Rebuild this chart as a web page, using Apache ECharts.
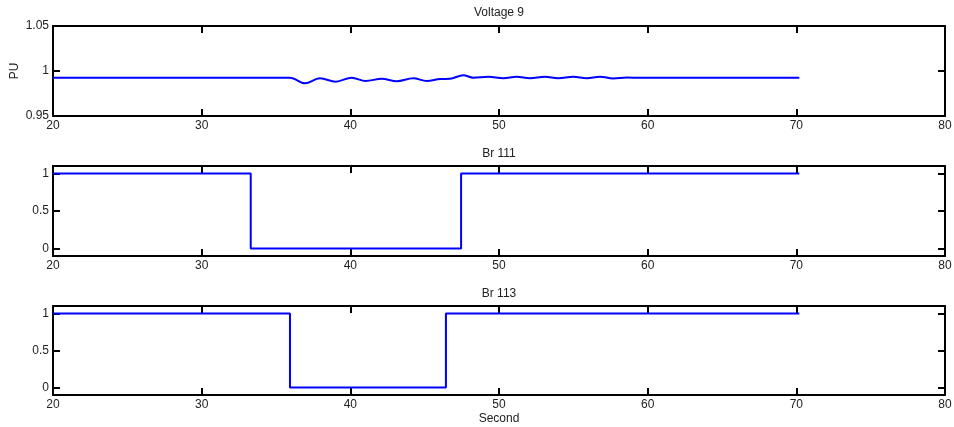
<!DOCTYPE html>
<html>
<head>
<meta charset="utf-8">
<script src="https://cdn.jsdelivr.net/npm/echarts@6/dist/echarts.min.js"></script>
<style>
  html, body { margin: 0; padding: 0; background: #fff; }
  #chart { width: 954px; height: 427px; }
</style>
</head>
<body>
<div id="chart"></div>
<script>
// Bus 9 voltage (per unit) over simulation time
const vTime = [20, 35.94, 36.95, 37.96, 39.02, 40.09, 41.03, 42.11, 43.12, 44.23, 45.14, 46.03, 46.70,
  47.60, 48.27, 49.28, 50.29, 51.19, 52.08, 53.09, 53.99, 55.0, 55.9, 56.79, 57.67, 58.61, 59.48, 70.2];
const vPU = [0.9925, 0.9925, 0.9863, 0.9919, 0.9881, 0.9926, 0.9889, 0.9914, 0.9886, 0.9919, 0.9889, 0.9911, 0.9914,
  0.9952, 0.9926, 0.9937, 0.9919, 0.9937, 0.9919, 0.9937, 0.9919, 0.9937, 0.9919, 0.9937, 0.9917, 0.9927, 0.9925, 0.9925];

// Branch status (1 = closed, 0 = open) at switching instants
const br111Time = [20, 33.3, 47.45, 70.2];
const br111State = [1, 0, 1, 1];
const br113Time = [20, 35.94, 46.43, 70.2];
const br113State = [1, 0, 1, 1];

// Axis ticks
const xTicks = [20, 30, 40, 50, 60, 70, 80];
const vTicks = [0.95, 1, 1.05];
const stateTicks = [0, 0.5, 1];

const titles = ['Voltage 9', 'Br 111', 'Br 113'];

const FONT = 'Arial, "Liberation Sans", sans-serif';
const grids = [
  { left: 53, right: 9, top: 26, height: 90, outerBoundsMode: 'none', containLabel: false },
  { left: 53, right: 9, top: 166, height: 90, outerBoundsMode: 'none', containLabel: false },
  { left: 53, right: 9, top: 306, height: 89, outerBoundsMode: 'none', containLabel: false }
];
const yRanges = [[0.95, 1.05, vTicks], [-0.1, 1.1, stateTicks], [-0.1, 1.1, stateTicks]];

const lineStyle = { color: '#000', width: 2 };
const tickStyle = { show: true, inside: true, length: 7, lineStyle: { color: '#000', width: 2 } };

const xAxes = [];
const yAxes = [];
grids.forEach((g, i) => {
  const xBase = {
    type: 'value', gridIndex: i, min: 20, max: 80,
    splitLine: { show: false },
    axisLine: { show: true, onZero: false, lineStyle: lineStyle },
    axisTick: Object.assign({}, tickStyle, { customValues: xTicks })
  };
  xAxes.push(Object.assign({}, xBase, {
    position: 'bottom',
    axisLabel: { show: true, margin: 4, color: '#222', fontSize: 12, fontFamily: FONT, customValues: xTicks },
    name: i === 2 ? 'Second' : '',
    nameLocation: 'middle', nameGap: 18, nameMoveOverlap: false,
    nameTextStyle: { color: '#222', fontSize: 12, fontFamily: FONT }
  }));
  xAxes.push(Object.assign({}, xBase, { position: 'top', axisLabel: { show: false } }));

  const [ymin, ymax, yt] = yRanges[i];
  const yBase = {
    type: 'value', gridIndex: i, min: ymin, max: ymax,
    splitLine: { show: false },
    axisLine: { show: true, onZero: false, lineStyle: lineStyle },
    axisTick: Object.assign({}, tickStyle, { customValues: yt })
  };
  yAxes.push(Object.assign({}, yBase, {
    position: 'left',
    axisLabel: { show: true, margin: 4, color: '#222', fontSize: 12, fontFamily: FONT, customValues: yt },
    name: i === 0 ? 'PU' : '',
    nameLocation: 'middle', nameGap: 32, nameRotate: 90, nameMoveOverlap: false,
    nameTextStyle: { color: '#222', fontSize: 12, fontFamily: FONT }
  }));
  yAxes.push(Object.assign({}, yBase, { position: 'right', axisLabel: { show: false } }));
});

const zip = (a, b) => a.map((t, k) => [t, b[k]]);

const option = {
  animation: false,
  backgroundColor: '#fff',
  title: titles.map((t, i) => ({
    text: t, left: 499, textAlign: 'center', top: [7, 148, 288][i], padding: 0,
    textStyle: { color: '#222', fontSize: 12, fontWeight: 'normal', fontFamily: FONT }
  })),
  grid: grids,
  xAxis: xAxes,
  yAxis: yAxes,
  series: [
    { type: 'line', xAxisIndex: 0, yAxisIndex: 0, data: zip(vTime, vPU), smooth: 0.35,
      showSymbol: false, lineStyle: { color: '#0000ff', width: 2 } },
    { type: 'line', xAxisIndex: 2, yAxisIndex: 2, data: zip(br111Time, br111State), step: 'end',
      showSymbol: false, lineStyle: { color: '#0000ff', width: 2 } },
    { type: 'line', xAxisIndex: 4, yAxisIndex: 4, data: zip(br113Time, br113State), step: 'end',
      showSymbol: false, lineStyle: { color: '#0000ff', width: 2 } }
  ]
};

echarts.init(document.getElementById('chart'), null, { renderer: 'canvas' }).setOption(option);
</script>
</body>
</html>
